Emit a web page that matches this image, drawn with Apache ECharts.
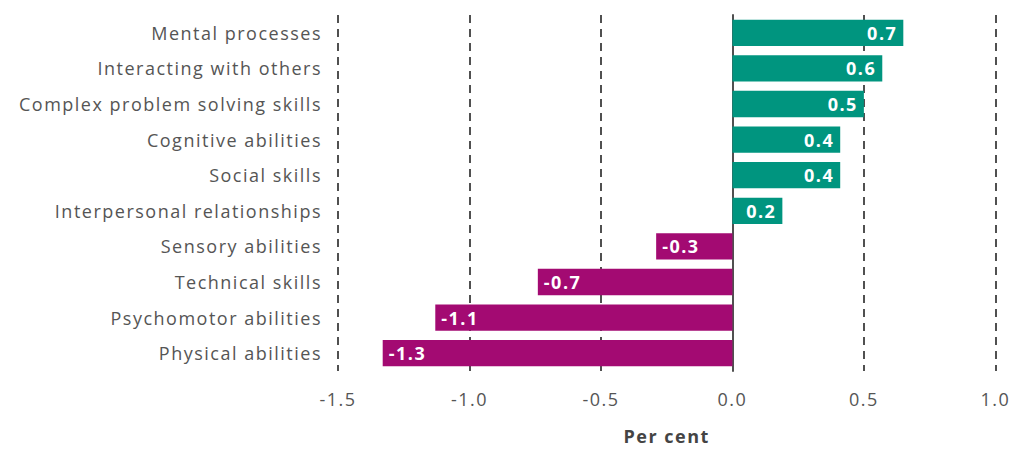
<!DOCTYPE html>
<html>
<head>
<meta charset="utf-8">
<script src="https://cdn.jsdelivr.net/npm/echarts@6/dist/echarts.min.js"></script>
<style>
  html, body { margin: 0; padding: 0; background: #fff; }
  #chart { width: 1011px; height: 450px; }
  /* wider tracking for all chart text (SVG renderer) */
  #chart text { letter-spacing: 1.5px; }
</style>
</head>
<body>
<div id="chart"></div>
<script>
// Skill groups, top to bottom
const categories = [
  'Mental processes',
  'Interacting with others',
  'Complex problem solving skills',
  'Cognitive abilities',
  'Social skills',
  'Interpersonal relationships',
  'Sensory abilities',
  'Technical skills',
  'Psychomotor abilities',
  'Physical abilities'
];
// Change, per cent
const values = [0.65, 0.57, 0.50, 0.41, 0.41, 0.19, -0.29, -0.74, -1.13, -1.33];
const xTicks = { min: -1.5, max: 1.0, step: 0.5 };
const axisTitle = 'Per cent';

const POS = '#00957F';
const NEG = '#A30A72';
const FONT = '"Open Sans", sans-serif';

const chart = echarts.init(document.getElementById('chart'), null, { renderer: 'svg' });
chart.setOption({
  animation: false,
  grid: { left: 338, right: 14, top: 15, bottom: 73, containLabel: false },
  xAxis: {
    type: 'value',
    min: xTicks.min, max: xTicks.max, interval: xTicks.step,
    axisLine: { show: false },
    axisTick: { show: false },
    axisLabel: {
      color: '#555', fontFamily: FONT, fontSize: 18, margin: 19,
      formatter: v => v.toFixed(1)
    },
    splitLine: { show: true, lineStyle: { color: '#505050', width: 2, type: [8, 6] } },
    name: axisTitle, nameLocation: 'middle', nameGap: 56,
    nameTextStyle: { color: '#444', fontFamily: FONT, fontSize: 18, fontWeight: 'bold' }
  },
  yAxis: {
    type: 'category', data: categories, inverse: true,
    axisLine: { show: true, onZero: true, lineStyle: { color: '#505050', width: 2 } },
    axisTick: { show: false },
    axisLabel: {
      color: '#555', fontFamily: FONT, fontSize: 18, margin: 16,
      padding: [0, 0, 4, 0]
    }
  },
  series: [{
    type: 'bar',
    barCategoryGap: '26%',
    data: values.map(v => ({
      value: v,
      itemStyle: { color: v >= 0 ? POS : NEG },
      label: { position: v >= 0 ? 'insideRight' : 'insideLeft' }
    })),
    label: {
      show: true, color: '#fff', fontFamily: FONT, fontSize: 18, fontWeight: 'bold',
      distance: 6,
      formatter: p => p.value.toFixed(1)
    }
  }]
});
</script>
</body>
</html>
